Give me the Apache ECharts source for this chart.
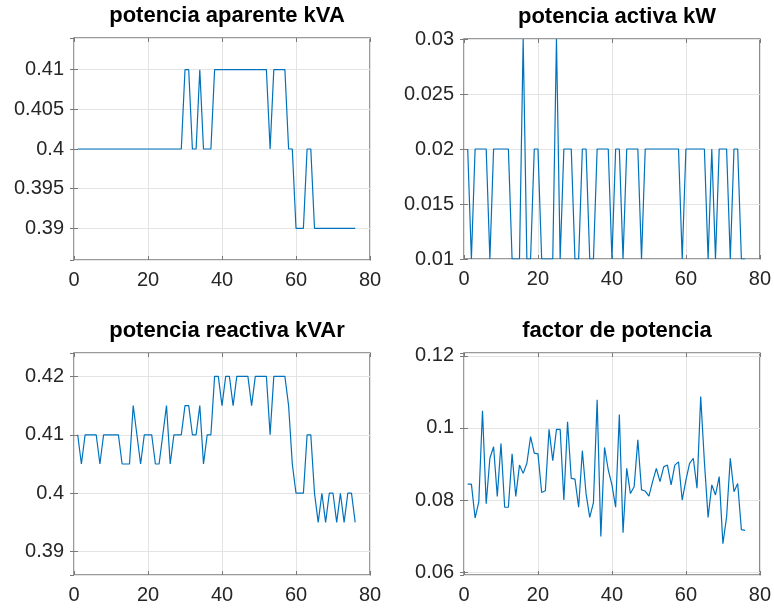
<!DOCTYPE html>
<html>
<head>
<meta charset="utf-8">
<style>
  html, body { margin: 0; padding: 0; background: #fff; }
  #main { width: 774px; height: 614px; }
</style>
<script src="https://cdn.jsdelivr.net/npm/echarts@6/dist/echarts.min.js"></script>
</head>
<body>
<div id="main"></div>
<script>
// sample values (x = sample number 1..76)
var apparent = [
  0.40, 0.40, 0.40, 0.40, 0.40, 0.40, 0.40, 0.40, 0.40, 0.40,
  0.40, 0.40, 0.40, 0.40, 0.40, 0.40, 0.40, 0.40, 0.40, 0.40,
  0.40, 0.40, 0.40, 0.40, 0.40, 0.40, 0.40, 0.40, 0.40, 0.41,
  0.41, 0.40, 0.40, 0.41, 0.40, 0.40, 0.40, 0.41, 0.41, 0.41,
  0.41, 0.41, 0.41, 0.41, 0.41, 0.41, 0.41, 0.41, 0.41, 0.41,
  0.41, 0.41, 0.40, 0.41, 0.41, 0.41, 0.41, 0.40, 0.40, 0.39,
  0.39, 0.39, 0.40, 0.40, 0.39, 0.39, 0.39, 0.39, 0.39, 0.39,
  0.39, 0.39, 0.39, 0.39, 0.39, 0.39
];
var active = [
  0.02, 0.01, 0.02, 0.02, 0.02, 0.02, 0.01, 0.02, 0.02, 0.02,
  0.02, 0.02, 0.01, 0.01, 0.01, 0.03, 0.01, 0.01, 0.02, 0.02,
  0.01, 0.01, 0.01, 0.01, 0.03, 0.01, 0.02, 0.02, 0.02, 0.01,
  0.01, 0.02, 0.02, 0.01, 0.01, 0.02, 0.02, 0.02, 0.02, 0.01,
  0.02, 0.02, 0.01, 0.02, 0.02, 0.02, 0.02, 0.01, 0.02, 0.02,
  0.02, 0.02, 0.02, 0.02, 0.02, 0.02, 0.02, 0.02, 0.01, 0.02,
  0.02, 0.02, 0.02, 0.02, 0.02, 0.01, 0.02, 0.01, 0.02, 0.02,
  0.02, 0.01, 0.02, 0.02, 0.01, 0.01
];
var reactive = [
  0.41, 0.405, 0.41, 0.41, 0.41, 0.41, 0.405, 0.41, 0.41, 0.41,
  0.41, 0.41, 0.405, 0.405, 0.405, 0.415, 0.41, 0.405, 0.41, 0.41,
  0.41, 0.405, 0.405, 0.41, 0.415, 0.405, 0.41, 0.41, 0.41, 0.415,
  0.415, 0.41, 0.41, 0.415, 0.405, 0.41, 0.41, 0.42, 0.42, 0.415,
  0.42, 0.42, 0.415, 0.42, 0.42, 0.42, 0.42, 0.415, 0.42, 0.42,
  0.42, 0.42, 0.41, 0.42, 0.42, 0.42, 0.42, 0.415, 0.405, 0.40,
  0.40, 0.40, 0.41, 0.41, 0.40, 0.395, 0.40, 0.395, 0.40, 0.40,
  0.395, 0.40, 0.395, 0.40, 0.40, 0.395
];
var powerFactor = [
  0.0844, 0.0844, 0.0750, 0.0795, 0.1048, 0.0790, 0.0916, 0.0948, 0.0810, 0.0957,
  0.0780, 0.0780, 0.0928, 0.0810, 0.0897, 0.0874, 0.0902, 0.0976, 0.0930, 0.0928,
  0.0821, 0.0826, 0.0996, 0.0909, 0.0996, 0.0996, 0.0800, 0.1017, 0.0860, 0.0858,
  0.0780, 0.0937, 0.0818, 0.0752, 0.0793, 0.1078, 0.0699, 0.0946, 0.0884, 0.0842,
  0.0780, 0.1037, 0.0709, 0.0888, 0.0818, 0.0837, 0.0967, 0.0828, 0.0825, 0.0811,
  0.0851, 0.0888, 0.0851, 0.0892, 0.0897, 0.0842, 0.0897, 0.0906, 0.0800, 0.0855,
  0.0902, 0.0916, 0.0833, 0.1087, 0.0906, 0.0752, 0.0842, 0.0814, 0.0865, 0.0679,
  0.0753, 0.0916, 0.0823, 0.0846, 0.0718, 0.0716
];
var titles = ['potencia aparente kVA', 'potencia activa kW', 'potencia reactiva kVAr', 'factor de potencia'];

function pairs(values) {
  var out = [];
  for (var i = 0; i < values.length; i++) out.push([i + 1, values[i]]);
  return out;
}

var chartDom = document.getElementById('main');
var myChart = echarts.init(chartDom);

var grids = [
  { left: 74, top: 38, width: 296, height: 222 },
  { left: 464, top: 39, width: 296, height: 220 },
  { left: 74, top: 353, width: 296, height: 222 },
  { left: 464, top: 353, width: 296, height: 222 }
];
// axis limits; panels without interval let ECharts pick the nice step
var yRanges = [
  { min: 0.386, max: 0.414 },
  { min: 0.01, max: 0.03, interval: 0.005 },
  { min: 0.386, max: 0.424 },
  { min: 0.0592, max: 0.1208, splitNumber: 3 }
];
var seriesData = [apparent, active, reactive, powerFactor];

var edge = '#7a7a7a';
var gridColor = '#e4e4e4';
var fontFam = 'Liberation Sans, Arial, Helvetica, sans-serif';
var labelStyle = { color: '#262626', fontSize: 20, fontFamily: fontFam };

var option = {
  backgroundColor: '#fff',
  animation: false,
  title: [],
  grid: [],
  xAxis: [],
  yAxis: [],
  series: []
};

grids.forEach(function (g, k) {
  option.grid.push({
    left: g.left, top: g.top, width: g.width, height: g.height,
    show: true, borderColor: edge, borderWidth: 1.5, backgroundColor: '#fff'
  });
  option.title.push({
    text: titles[k],
    left: g.left + g.width / 2,
    top: g.top - 38,
    textAlign: 'center',
    textStyle: { fontSize: 22, fontWeight: 'bold', color: '#000', fontFamily: fontFam }
  });
  option.xAxis.push({
    type: 'value', gridIndex: k, min: 0, max: 80, interval: 20,
    axisLine: { show: false },
    axisTick: { show: true, inside: true, length: 4, lineStyle: { color: edge } },
    axisLabel: Object.assign({ margin: 10 }, labelStyle),
    splitLine: { show: true, lineStyle: { color: gridColor, width: 1 } }
  });
  var yr = yRanges[k];
  var yAx = {
    type: 'value', gridIndex: k, min: yr.min, max: yr.max,
    axisLine: { show: false },
    axisTick: { show: true, inside: true, length: 4, lineStyle: { color: edge } },
    axisLabel: Object.assign({ margin: 10, showMinLabel: !!yr.interval, showMaxLabel: !!yr.interval }, labelStyle),
    splitLine: { show: true, lineStyle: { color: gridColor, width: 1 } }
  };
  if (yr.interval) yAx.interval = yr.interval;
  if (yr.splitNumber) yAx.splitNumber = yr.splitNumber;
  option.yAxis.push(yAx);
});

// top / right axes: only the inside ticks of the box
grids.forEach(function (g, k) {
  var yr = yRanges[k];
  option.xAxis.push({
    type: 'value', gridIndex: k, position: 'top', min: 0, max: 80, interval: 20,
    axisLine: { show: false },
    axisTick: { show: true, inside: true, length: 4, lineStyle: { color: edge } },
    axisLabel: { show: false }, splitLine: { show: false }
  });
  var yAx = {
    type: 'value', gridIndex: k, position: 'right', min: yr.min, max: yr.max,
    axisLine: { show: false },
    axisTick: { show: true, inside: true, length: 4, lineStyle: { color: edge } },
    axisLabel: { show: false }, splitLine: { show: false }
  };
  if (yr.interval) yAx.interval = yr.interval;
  if (yr.splitNumber) yAx.splitNumber = yr.splitNumber;
  option.yAxis.push(yAx);
});

seriesData.forEach(function (vals, k) {
  option.series.push({
    type: 'line',
    xAxisIndex: k,
    yAxisIndex: k,
    data: pairs(vals),
    showSymbol: false,
    symbol: 'none',
    lineStyle: { color: '#0072BD', width: 1.2 },
    emphasis: { disabled: true }
  });
});

myChart.setOption(option);
</script>
</body>
</html>
